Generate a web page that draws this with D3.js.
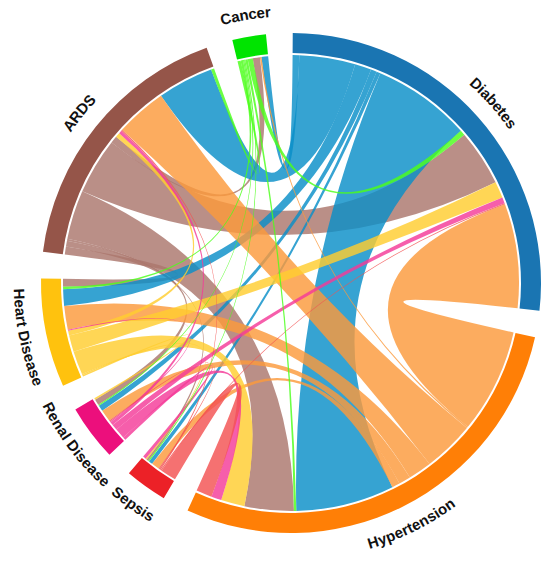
<!DOCTYPE html>
<html>
<head>
<meta charset="utf-8">
<script src="https://cdn.jsdelivr.net/npm/d3@7"></script>
<style>
  body { margin: 0; background: #fff; }
  text.label { font-family: "Liberation Sans", Arial, sans-serif; font-size: 15px; font-weight: bold; fill: #111; }
</style>
</head>
<body>
<svg width="550" height="561"></svg>
<script>
// groups, clockwise from 12 o'clock
const groups = ["Diabetes", "Hypertension", "Sepsis", "Renal Disease", "Heart Disease", "ARDS", "Cancer"];
const ringColors  = ["#1a75b2", "#ff7f06", "#ec2127", "#ec0f7c", "#ffc20e", "#955549", "#00e400"];
const chordColors = ["#0a8fc8", "#fb9a3c", "#f35252", "#f43a98", "#ffcd30", "#ab766c", "#4cff1a"];

// flows[i][j] : link from group i (row) to group j (column)
const flows = [
  //  Diab  Hyp  Seps Renal Heart ARDS Cancer
  [   0,   25,   1,   1.5,  4.2, 14.2, 1.7 ], // Diabetes
  [ 26.5,   0,   2,   3,    6,   13,   0.4 ], // Hypertension
  [  0.3,   4,   0,   0.3,  0,    0.3, 0   ], // Sepsis
  [  1.5,  2.6, 0.8,  0,    0.3,  0.8, 0   ], // Renal Disease
  [  4.2,   6,  0.3,  0.4,  0,    1.2, 0   ], // Heart Disease
  [ 14.3, 12.5, 0.5,  1.5,  2,    0,   1.8 ], // ARDS
  [  1.3,  0.6, 0.3,  0.3,  0.6,  0.8, 0   ]  // Cancer
];

const svg = d3.select("svg");
const cx = 291, cy = 283;
const ringInner = 230, ringOuter = 250, chordRadius = 228, labelRadius = 272;

const n = groups.length;
const total = d3.sum(flows, r => d3.sum(r)) * 2;
const padAngle = 6.15 * Math.PI / 180;
const offset = 0.4 * Math.PI / 180;
const angle = d3.scaleLinear().domain([0, total]).range([0, 2 * Math.PI - n * padAngle]);

// layout: in each group outgoing links first, then incoming, both ordered i-1, i-2, ... (wrapping)
const chords = [];
const links = flows.map(row => row.map(() => ({source: null, target: null})));
const groupArcs = [];
let x = 0;
groups.forEach((name, i) => {
  const pos = v => angle(v) + i * padAngle + offset;
  const start = pos(x);
  const order = d3.range(1, n).map(k => (i - k + n) % n);
  order.forEach(j => {
    const v = flows[i][j];
    if (v > 0) { links[i][j].source = {index: i, startAngle: pos(x), endAngle: pos(x + v), value: v}; x += v; }
  });
  order.forEach(j => {
    const v = flows[j][i];
    if (v > 0) { links[j][i].target = {index: i, startAngle: pos(x), endAngle: pos(x + v), value: v}; x += v; }
  });
  groupArcs.push({index: i, name: name, startAngle: start, endAngle: pos(x)});
});

// draw order: ARDS under Diabetes under Hypertension, then the small ones
const drawOrder = [5, 0, 1, 4, 3, 2, 6];
drawOrder.forEach(i => flows[i].forEach((v, j) => { if (v > 0) chords.push(links[i][j]); }));

const g = svg.append("g").attr("transform", `translate(${cx},${cy})`);

const ribbon = d3.ribbon().radius(chordRadius);
g.append("g").selectAll("path")
  .data(chords)
  .join("path")
  .attr("d", ribbon)
  .attr("fill", d => chordColors[d.source.index])
  .attr("fill-opacity", 0.82);

const arc = d3.arc().innerRadius(ringInner).outerRadius(ringOuter);
g.append("g").selectAll("path")
  .data(groupArcs)
  .join("path")
  .attr("d", arc)
  .attr("fill", d => ringColors[d.index]);

// labels bent along the circle; bottom half reads counter-clockwise
const pt = a => [labelRadius * Math.sin(a), -labelRadius * Math.cos(a)];
const labelPath = d => {
  const mid = (d.startAngle + d.endAngle) / 2;
  const span = 1.1;
  const bottom = mid > Math.PI / 2 && mid < Math.PI * 1.5;
  const a0 = bottom ? mid + span : mid - span;
  const a1 = bottom ? mid - span : mid + span;
  const p0 = pt(a0), p1 = pt(a1);
  return `M${p0[0]},${p0[1]}A${labelRadius},${labelRadius} 0 0 ${bottom ? 0 : 1} ${p1[0]},${p1[1]}`;
};

const defs = svg.append("defs");
defs.selectAll("path")
  .data(groupArcs)
  .join("path")
  .attr("id", d => "lp" + d.index)
  .attr("d", labelPath);

g.append("g").selectAll("text")
  .data(groupArcs)
  .join("text")
  .attr("class", "label")
  .attr("dy", "0.35em")
  .append("textPath")
  .attr("href", d => "#lp" + d.index)
  .attr("startOffset", "50%")
  .attr("text-anchor", "middle")
  .text(d => d.name);
</script>
</body>
</html>
